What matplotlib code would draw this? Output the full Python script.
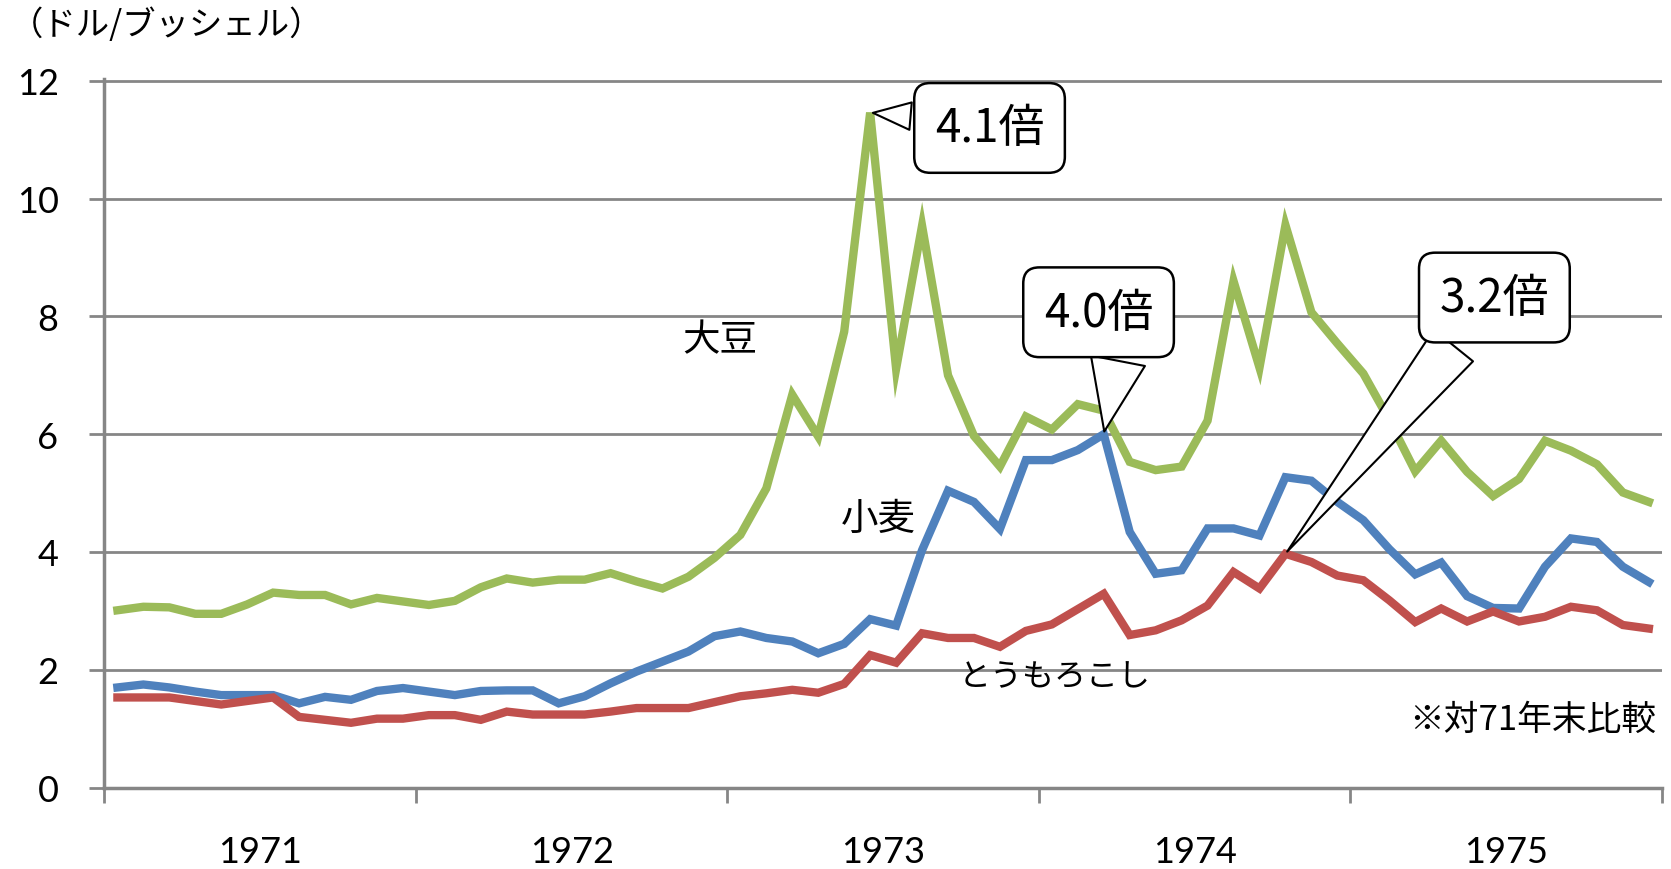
import numpy as np
import matplotlib
matplotlib.use('Agg')
import matplotlib.pyplot as plt

plt.rcParams['font.family'] = ['Noto Sans CJK JP', 'DejaVu Sans']

# monthly prices 1971-1975 (dollars per bushel)
years = ['1971', '1972', '1973', '1974', '1975']
soybean = [3.01, 3.07, 3.06, 2.95, 2.95, 3.11, 3.31, 3.27, 3.27, 3.11, 3.22, 3.16,
           3.10, 3.17, 3.40, 3.55, 3.48, 3.53, 3.53, 3.64, 3.50, 3.38, 3.58, 3.90,
           4.29, 5.08, 6.67, 5.96, 7.74, 11.46, 7.11, 9.54, 7.00, 5.97, 5.45, 6.30,
           6.08, 6.51, 6.40, 5.53, 5.39, 5.45, 6.23, 8.60, 7.13, 9.55, 8.07, 7.54,
           7.03, 6.24, 5.37, 5.89, 5.36, 4.95, 5.24, 5.89, 5.72, 5.49, 5.01, 4.85]
wheat = [1.70, 1.75, 1.70, 1.63, 1.57, 1.57, 1.57, 1.43, 1.54, 1.49, 1.64, 1.69,
         1.63, 1.57, 1.64, 1.65, 1.65, 1.43, 1.55, 1.77, 1.97, 2.14, 2.31, 2.57,
         2.65, 2.54, 2.48, 2.28, 2.44, 2.86, 2.75, 4.03, 5.04, 4.85, 4.39, 5.56,
         5.56, 5.73, 6.00, 4.34, 3.63, 3.69, 4.40, 4.40, 4.28, 5.27, 5.21, 4.85,
         4.54, 4.05, 3.62, 3.82, 3.25, 3.05, 3.04, 3.75, 4.23, 4.17, 3.75, 3.49]
corn = [1.53, 1.53, 1.53, 1.47, 1.41, 1.47, 1.53, 1.20, 1.15, 1.10, 1.17, 1.17,
        1.23, 1.23, 1.15, 1.29, 1.24, 1.24, 1.24, 1.29, 1.35, 1.35, 1.35, 1.45,
        1.55, 1.60, 1.66, 1.61, 1.76, 2.25, 2.12, 2.62, 2.54, 2.54, 2.39, 2.66,
        2.77, 3.03, 3.29, 2.59, 2.67, 2.84, 3.09, 3.66, 3.38, 3.97, 3.83, 3.60,
        3.52, 3.18, 2.81, 3.04, 2.82, 2.99, 2.82, 2.90, 3.07, 3.01, 2.76, 2.70]

# callouts: (series, month index of peak, text)
callouts = [('soy', 29, '4.1倍'), ('wheat', 38, '4.0倍'), ('corn', 45, '3.2倍')]

months = np.arange(len(soybean))
series = {'soy': soybean, 'wheat': wheat, 'corn': corn}

fig = plt.figure(figsize=(16.71, 8.7), dpi=100)
ax = fig.add_axes([0.0625, 0.0936, 0.932, 0.8144])

grid_c = '#868686'
ax.plot(months, soybean, color='#9BBB59', lw=6, solid_joinstyle='miter', zorder=3)
ax.plot(months, wheat, color='#4F81BD', lw=6, solid_joinstyle='miter', zorder=3)
ax.plot(months, corn, color='#C0504D', lw=6, solid_joinstyle='miter', zorder=3)

ax.set_xlim(-0.5, len(months) - 0.5)
ax.set_ylim(0, 12.03)
ax.set_yticks(range(0, 13, 2))
ax.yaxis.grid(True, color=grid_c, lw=2)
ax.set_axisbelow(True)

# year boundaries as major ticks, year names centered as minor ticks
ax.set_xticks(np.arange(-0.5, len(months), 12))
ax.set_xticklabels([])
ax.set_xticks(np.arange(5.5, len(months), 12), minor=True)
ax.set_xticklabels(years, minor=True, fontsize=26, fontfamily='Lato')
ax.tick_params(axis='x', which='major', length=11, width=2, color=grid_c)
ax.tick_params(axis='x', which='minor', length=0, pad=34)
ax.tick_params(axis='y', length=11, width=2, color=grid_c, pad=22)
for lbl in ax.get_yticklabels():
    lbl.set_fontsize(26)
    lbl.set_fontfamily('Lato')

for side in ['top', 'right']:
    ax.spines[side].set_visible(False)
for side in ['left', 'bottom']:
    ax.spines[side].set_color(grid_c)
    ax.spines[side].set_linewidth(2.5)

# series labels
ax.text(23.2, 7.61, '大豆', fontsize=27, ha='center', va='center')
ax.text(29.3, 4.57, '小麦', fontsize=27, ha='center', va='center')
ax.text(36.1, 1.89, 'とうもろこし', fontsize=23, ha='center', va='center')
ax.text(59.3, 1.16, '※対71年末比較', fontsize=25, ha='right', va='center')
fig.text(0.006, 0.971, '（ドル/ブッシェル）', fontsize=24, ha='left', va='center')

# speech-bubble callouts
text_pos = {'soy': (33.6, 11.2), 'wheat': (37.8, 8.07), 'corn': (53.05, 8.32)}
widths = {'soy': 0.6, 'wheat': 1.2, 'corn': 1.1}
rel = {'soy': (0.0, 0.7), 'wheat': (0.72, 0.0), 'corn': (0.3, 0.0)}
for key, idx, label in callouts:
    ax.annotate(label, xy=(months[idx], series[key][idx]), xytext=text_pos[key],
                fontsize=33, ha='center', va='center', zorder=5,
                bbox=dict(boxstyle='round,pad=0.45,rounding_size=0.35', fc='white', ec='black', lw=1.8),
                arrowprops=dict(arrowstyle=f'wedge,tail_width={widths[key]},shrink_factor=0.5',
                                relpos=rel[key], fc='white', ec='black', lw=1.5))

plt.savefig('out.png', dpi=100)
plt.close()
